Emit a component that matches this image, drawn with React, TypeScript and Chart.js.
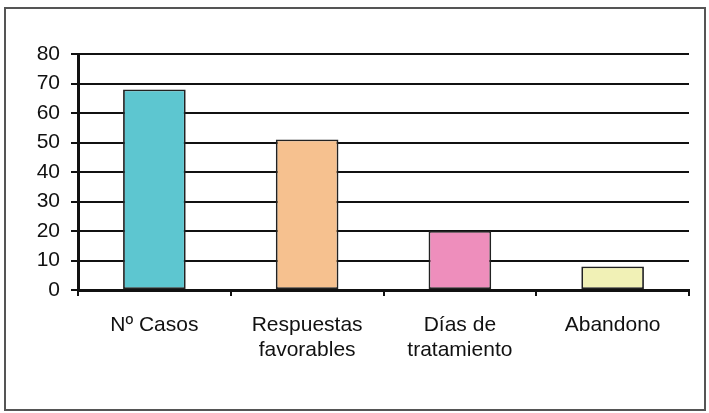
import React, { useEffect, useRef } from "react";
import { Chart, registerables } from "chart.js";

Chart.register(...registerables);

const categories: (string | string[])[] = [
  "Nº Casos",
  ["Respuestas", "favorables"],
  ["Días de", "tratamiento"],
  "Abandono",
];
const values: number[] = [68, 51, 20, 8];
const barColors: string[] = ["#5DC6D0", "#F6C18F", "#EE8EBC", "#F1F1B6"];
const yMin = 0;
const yMax = 80;
const yStep = 10;

const frame = {
  id: "frame",
  afterDraw(chart: any) {
    const ctx = chart.ctx;
    ctx.save();
    ctx.strokeStyle = "#555";
    ctx.lineWidth = 2;
    ctx.strokeRect(5, 8, 700, 402);
    ctx.restore();
  },
};

export default function App() {
  const ref = useRef<HTMLCanvasElement | null>(null);
  useEffect(() => {
    document.body.style.margin = "0";
    const family = "'Liberation Sans', Arial, sans-serif";
    const chart = new Chart(ref.current!, {
      type: "bar",
      data: {
        labels: categories as any,
        datasets: [
          {
            data: values,
            backgroundColor: barColors,
            borderColor: "#222",
            borderWidth: 1.8,
            borderSkipped: false,
            barPercentage: 0.82,
            categoryPercentage: 0.5,
          },
        ],
      },
      options: {
        responsive: false,
        animation: false,
        maintainAspectRatio: false,
        layout: { padding: { left: 0, top: 54, right: 20, bottom: 0 } },
        plugins: { legend: { display: false }, tooltip: { enabled: false } },
        scales: {
          x: {
            afterFit: (s: any) => {
              s.height = 123;
            },
            grid: {
              display: true,
              drawOnChartArea: false,
              drawTicks: true,
              tickLength: 6,
              color: "#111",
              lineWidth: 2,
              offset: true,
            },
            border: { display: true, color: "#111", width: 3 },
            ticks: {
              color: "#111",
              font: { family, size: 21, lineHeight: 1.19 },
              padding: 17,
              maxRotation: 0,
              autoSkip: false,
            },
          },
          y: {
            min: yMin,
            max: yMax,
            afterFit: (s: any) => {
              s.width = 78;
            },
            grid: {
              color: "#111",
              lineWidth: 2,
              drawTicks: true,
              tickLength: 7,
            },
            border: { display: true, color: "#111", width: 3 },
            ticks: {
              stepSize: yStep,
              color: "#111",
              font: { family, size: 21 },
              padding: 11,
            },
          },
        },
      },
      plugins: [frame],
    });
    return () => chart.destroy();
  }, []);
  return <canvas ref={ref} width={709} height={413} style={{ display: "block" }} />;
}
